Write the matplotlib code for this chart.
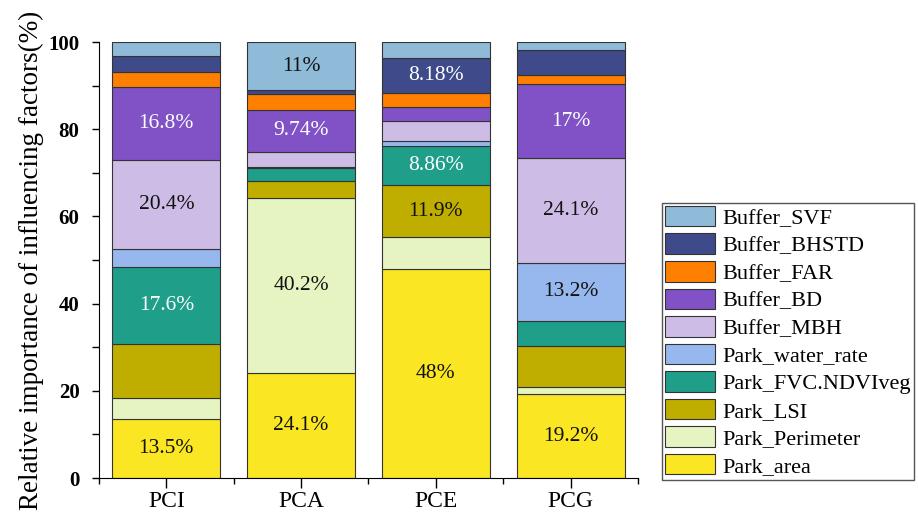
import matplotlib
matplotlib.use("Agg")
import matplotlib.pyplot as plt
import numpy as np
from matplotlib.ticker import MultipleLocator
from matplotlib.patches import Patch

plt.rcParams['font.family'] = ['Liberation Serif', 'DejaVu Serif']

categories = ["PCI", "PCA", "PCE", "PCG"]

# factors from the bottom of the stack to the top
factors = ["Park_area", "Park_Perimeter", "Park_LSI", "Park_FVC.NDVIveg",
           "Park_water_rate", "Buffer_MBH", "Buffer_BD", "Buffer_FAR",
           "Buffer_BHSTD", "Buffer_SVF"]

park_area = [13.5, 24.1, 48, 19.2]
park_perimeter = [4.9, 40.2, 7.3, 1.6]
park_lsi = [12.3, 3.9, 11.9, 9.4]
park_fvc = [17.6, 2.9, 8.86, 5.9]
park_water_rate = [4.2, 0.3, 1.2, 13.2]
buffer_mbh = [20.4, 3.4, 4.7, 24.1]
buffer_bd = [16.8, 9.74, 3.1, 17]
buffer_far = [3.4, 3.6, 3.2, 2.0]
buffer_bhstd = [3.8, 0.8, 8.18, 5.7]
buffer_svf = [3.1, 11, 3.5, 1.9]

values = [park_area, park_perimeter, park_lsi, park_fvc, park_water_rate,
          buffer_mbh, buffer_bd, buffer_far, buffer_bhstd, buffer_svf]

# segments that carry a percentage label: (factor index, category index)
labelled = [(0, 0), (0, 1), (0, 2), (0, 3),
            (1, 1),
            (2, 2),
            (3, 0), (3, 2),
            (4, 3),
            (5, 0), (5, 3),
            (6, 0), (6, 1), (6, 3),
            (8, 2),
            (9, 1)]

colors = ["#FAE622", "#E6F4C1", "#BFAE00", "#1F9E89", "#97B8EE",
          "#CDBDE6", "#8052C5", "#FF7F00", "#3F4A8A", "#8FBBD9"]
white_text = {3, 6, 8}


def main():
    fig = plt.figure(figsize=(9.18, 5.14), dpi=100)
    ax = fig.add_axes([0.1078, 0.070, 0.5872, 0.848])

    x = np.arange(len(categories))
    bottom = np.zeros(len(categories))
    for i, vals in enumerate(values):
        ax.bar(x, vals, width=0.8, bottom=bottom, color=colors[i],
               edgecolor="#333333", linewidth=0.8)
        for j in range(len(categories)):
            if (i, j) in labelled:
                ax.text(x[j], bottom[j] + vals[j] / 2, f"{vals[j]:g}%",
                        ha="center", va="center", fontsize=15.5,
                        color="white" if i in white_text else "#111111")
        bottom += np.array(vals)

    ax.set_xlim(-0.5, 3.5)
    ax.set_ylim(0, 100)
    ax.set_xticks(x)
    ax.set_xticklabels(categories, fontsize=17)
    ax.xaxis.set_minor_locator(MultipleLocator(1, offset=0.5))
    ax.yaxis.set_major_locator(MultipleLocator(20))
    ax.yaxis.set_minor_locator(MultipleLocator(10))
    for lbl in ax.get_yticklabels():
        lbl.set_fontweight("bold")
        lbl.set_fontsize(15)
    ax.tick_params(axis="x", which="major", direction="out", length=7, width=1, pad=2)
    ax.tick_params(axis="x", which="minor", direction="out", length=4, width=1)
    ax.tick_params(axis="y", which="both", direction="out", length=5, width=1, pad=9)
    ax.spines["top"].set_visible(False)
    ax.spines["right"].set_visible(False)
    ax.set_ylabel("Relative importance of influencing factors(%)", fontsize=19.5,
                  labelpad=3)

    handles = [Patch(facecolor=colors[i], edgecolor="#333333", linewidth=0.8,
                     label=factors[i]) for i in range(len(factors))][::-1]
    fig.legend(handles=handles, loc="lower left",
               bbox_to_anchor=(0.721, 0.066), bbox_transform=fig.transFigure,
               borderaxespad=0, fontsize=16, handlelength=2.25, handleheight=1.05,
               handletextpad=0.3, labelspacing=0.21, borderpad=0.15,
               fancybox=False, framealpha=1, edgecolor="#555555")

    fig.savefig("out.png", dpi=100)


if __name__ == "__main__":
    main()
